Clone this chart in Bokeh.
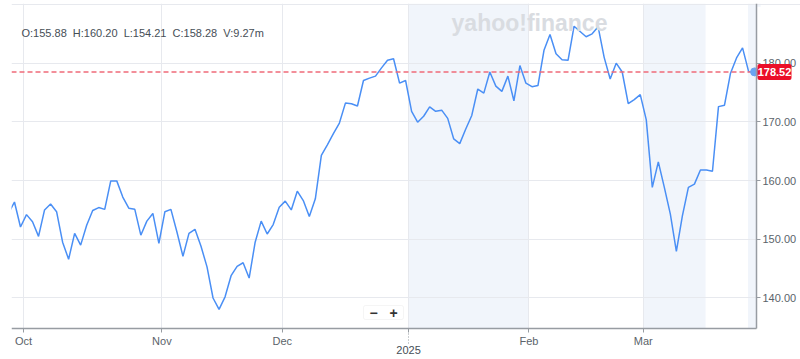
from bokeh.plotting import figure
from bokeh.models import (Range1d, FixedTicker, Label, BoxAnnotation, LinearAxis,
                          ColumnDataSource, PrintfTickFormatter)
from bokeh.embed import file_html
from bokeh.resources import INLINE

# ---- data (index = trading day, 0 = Sep 26 2024) ----
closes = [
    154.4, 156.35, 152.1, 154.2, 153.0, 150.5, 155.0, 156.0, 154.7, 149.5,
    146.6, 151.0, 149.0, 152.4, 154.9, 155.4, 155.1, 159.95, 159.95, 157.2,
    155.3, 155.1, 150.7, 153.1, 154.4, 149.3, 154.7, 155.1, 151.25, 147.1,
    151.0, 151.7, 148.8, 145.3, 140.0, 138.05, 140.2, 143.8, 145.4, 146.0,
    143.4, 149.5, 153.1, 150.9, 152.5, 155.45, 156.5, 155.0, 158.2, 156.6,
    153.9, 156.9, 164.3, 166.1, 168.0, 169.8, 173.2, 173.1, 172.7, 177.05,
    177.45, 177.8, 179.2, 180.5, 180.75, 176.6, 177.05, 171.8, 169.95, 170.96,
    172.55, 171.8, 172.0, 170.6, 167.1, 166.3, 168.8, 171.1, 175.6, 174.9,
    178.5, 176.1, 175.2, 177.8, 173.6, 179.6, 176.6, 176.0, 176.2, 182.2,
    184.9, 181.6, 180.6, 180.5, 186.3, 185.4, 184.5, 185.0, 186.2, 181.0,
    177.3, 180.0, 178.5, 173.1, 173.8, 174.65, 170.35, 158.85, 163.2, 158.85,
    154.3, 147.95, 154.0, 158.85, 159.4, 161.8, 161.8, 161.6, 172.6, 172.85,
    178.3, 180.9, 182.6, 178.6, 178.52,
]
month_labels = ["Oct", "Nov", "Dec", "", "Feb", "Mar"]
month_first_idx = [3, 26, 46, 67, 87, 106]
year_label = "2025"
year_first_idx = 67
band_starts = [66.5, 105.5, 122.9]
band_ends = [86.5, 115.85, 125.0]
y_label_ticks = [140, 150, 160, 170, 180]
y_grid_ticks = [140, 150, 160, 170, 180, 190]
last_price = 178.52
ohlc_text = "O:155.88\u00a0\u00a0H:160.20\u00a0\u00a0L:154.21\u00a0\u00a0C:158.28\u00a0\u00a0V:9.27m"
watermark = "yahoo!finance"

FONT = "Liberation Sans"
LABEL_COLOR = "#5b636a"
AXIS_COLOR = "#979ca2"
GRID_COLOR = "#e7e9ee"

W, H = 800, 359
TOP = 3
X_START, X_END = 0.507, 131.63      # visible index range (frame spans to the window edge)
AXIS_X = 124.32                      # where the price axis sits
Y_START, Y_END = 129.52, 190.17      # frame spans to the bottom edge
Y_AXIS = 134.80                      # where the time axis sits
PX_PER_UNIT = (H - TOP) / (Y_END - Y_START)

idx = list(range(len(closes)))
src = ColumnDataSource(dict(x=idx, y=closes))

p = figure(width=W, height=H, output_backend="svg", toolbar_location=None,
           x_range=Range1d(X_START, X_END), y_range=Range1d(Y_START, Y_END),
           min_border_left=11, min_border_right=0, min_border_top=TOP,
           min_border_bottom=0)
p.outline_line_color = None
p.background_fill_color = "white"
p.border_fill_color = "white"
p.xaxis.visible = False
p.yaxis.visible = False

# shaded bands
for s, e in zip(band_starts, band_ends):
    p.add_layout(BoxAnnotation(left=s, right=e, bottom=Y_AXIS, fill_color="#f1f5fb",
                               fill_alpha=1.0, line_color=None, level="image"))

# grids
xticks = [i - 0.5 for i in month_first_idx]
jan_x = year_first_idx - 0.5
xt = FixedTicker(ticks=xticks, minor_ticks=[])
p.xgrid.ticker = xt
p.ygrid.ticker = FixedTicker(ticks=y_grid_ticks, minor_ticks=[])
p.xgrid.grid_line_color = GRID_COLOR
p.ygrid.grid_line_color = GRID_COLOR

# blank the areas outside the plotting region (right of the price axis, below the time axis)
p.add_layout(BoxAnnotation(left=AXIS_X, top=189.6, fill_color="white", fill_alpha=1.0,
                           line_color=None, level="underlay"))
p.add_layout(BoxAnnotation(top=Y_AXIS, fill_color="white", fill_alpha=1.0,
                           line_color=None, level="underlay"))


def style_axis(ax):
    ax.axis_line_color = AXIS_COLOR
    ax.axis_line_width = 1.5
    ax.major_tick_line_color = AXIS_COLOR
    ax.major_tick_in = 0
    ax.minor_tick_out = 0
    ax.minor_tick_in = 0
    ax.major_label_text_font = FONT
    ax.major_label_text_font_size = "11px"
    ax.major_label_text_color = LABEL_COLOR


# time axis (months)
xa = LinearAxis(fixed_location=Y_AXIS, ticker=xt,
                major_label_overrides={t: l for t, l in zip(xticks, month_labels)},
                bounds=(X_START, AXIS_X))
style_axis(xa)
xa.major_tick_out = 4
xa.major_label_standoff = 2
p.add_layout(xa, "below")

# year marker under January
ya = LinearAxis(fixed_location=Y_AXIS,
                ticker=FixedTicker(ticks=[jan_x], minor_ticks=[]),
                major_label_overrides={jan_x: year_label})
style_axis(ya)
ya.axis_line_color = None
ya.major_tick_out = 15
ya.major_tick_line_dash = "1 2"
ya.major_tick_line_width = 1
ya.major_label_standoff = 2
ya.major_label_text_color = "#464e56"
p.add_layout(ya, "below")

# price axis on the right
pa = LinearAxis(fixed_location=AXIS_X,
                ticker=FixedTicker(ticks=y_label_ticks, minor_ticks=[]),
                formatter=PrintfTickFormatter(format="%.2f"),
                bounds=(Y_AXIS, Y_END))
style_axis(pa)
pa.major_tick_out = 4
pa.major_label_standoff = 2
p.add_layout(pa, "right")

# price line
p.line("x", "y", source=src, line_color="#4a8ff5", line_width=1.5)

# last price dashed line
p.segment(x0=[X_START], x1=[AXIS_X], y0=[last_price], y1=[last_price],
          line_color="#ef6b79", line_dash="5 3", line_width=1.5)

# last point dot
p.scatter(x=[idx[-1]], y=[closes[-1]], size=8, fill_color="#6aa4f2",
          line_color="#6aa4f2")

# price tag on the axis
tag_half = 8 / PX_PER_UNIT
p.add_layout(BoxAnnotation(left=746, right=780, left_units="screen", right_units="screen",
                           bottom=last_price - tag_half, top=last_price + tag_half,
                           fill_color="#eb0f29", fill_alpha=1.0, line_color=None,
                           border_radius=2, level="annotation"))
p.add_layout(Label(x=763, x_units="screen", y=last_price, y_units="data",
                   text=f"{last_price:.2f}", text_color="white",
                   text_font=FONT, text_font_style="bold", text_font_size="11px",
                   text_baseline="middle", text_align="center"))

# OHLC header (screen y measured from the bottom of the frame)
p.add_layout(Label(x=10, y=H - 32, x_units="screen", y_units="screen", text=ohlc_text,
                   text_font=FONT, text_font_size="11px", text_color="#464e56",
                   text_baseline="middle"))

# watermark
p.add_layout(Label(x=518, y=H - 22, x_units="screen", y_units="screen", text=watermark,
                   text_font=FONT, text_font_style="bold", text_font_size="23px",
                   text_color="#d9dce1", text_baseline="middle", text_align="center"))

# zoom control
p.add_layout(BoxAnnotation(left=352, right=392, bottom=H - 319, top=H - 305,
                           left_units="screen", right_units="screen",
                           bottom_units="screen", top_units="screen",
                           fill_color="white", fill_alpha=1.0,
                           line_color="#dedede", line_width=1, border_radius=2))
for sx, t in ((362, "\u2212"), (382, "+")):
    p.add_layout(Label(x=sx, y=H - 312, x_units="screen", y_units="screen", text=t,
                       text_font=FONT, text_font_style="bold", text_font_size="14px",
                       text_color="#333333", text_baseline="middle",
                       text_align="center"))

open("out.html", "w").write(file_html(p, INLINE))
